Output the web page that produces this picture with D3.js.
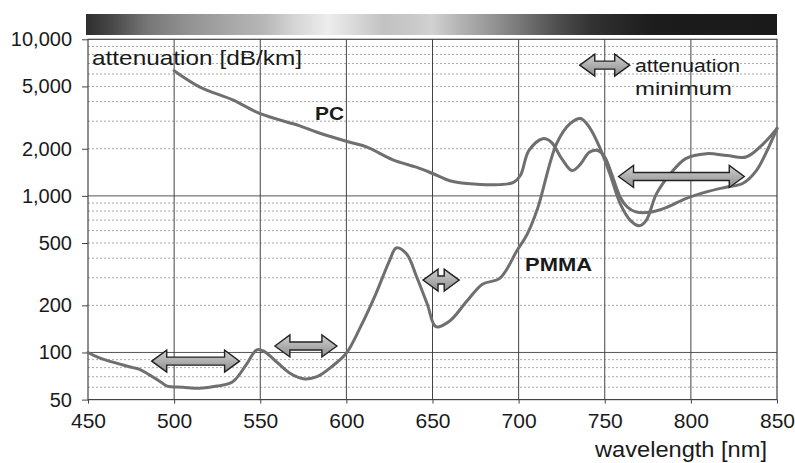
<!DOCTYPE html>
<html>
<head>
<meta charset="utf-8">
<script src="https://cdn.jsdelivr.net/npm/d3@7"></script>
<style>
  html, body { margin: 0; padding: 0; background: #ffffff; }
  svg { display: block; font-family: "Liberation Sans", Arial, Helvetica, sans-serif; }
</style>
</head>
<body>
<svg id="chart" width="795" height="463"></svg>
<script>
// ---------- data ----------
const xTicks = [450, 500, 550, 600, 650, 700, 750, 800, 850];
const yTicks = [50, 100, 200, 500, 1000, 2000, 5000, 10000];
const yMajorGrid = [100, 1000];
const yMinorGrid = [60, 70, 80, 90, 200, 300, 400, 500, 600, 700, 800, 900,
                    2000, 3000, 4000, 5000, 6000, 7000, 8000, 9000];

const pcWavelength = [500, 515, 534, 550, 573, 583, 602, 612, 627, 641, 650, 660, 670, 689,
  697, 701, 706, 714, 719, 725, 731, 736, 741, 746, 750, 754, 759, 763, 768, 776, 786,
  797, 809, 821, 830, 838, 850];
const pcAttenuation = [6300, 4950, 4100, 3350, 2800, 2550, 2200, 2050, 1700, 1520, 1390, 1250, 1200, 1180,
  1220, 1350, 1950, 2320, 2200, 1730, 1450, 1600, 1900, 1950, 1770, 1380, 980, 850, 790, 785, 845,
  960, 1060, 1140, 1200, 1450, 2700];

const pmmaWavelength = [450, 457, 476, 480, 492, 496, 505, 515, 525, 534, 542, 548, 552, 560, 567,
  575, 583, 592, 600, 608, 617, 625, 629, 635, 641, 647, 652, 660, 670, 679, 689, 699, 705, 711,
  722, 730, 736, 741, 747, 753, 759, 765, 770, 774, 780, 788, 797, 809, 821, 832, 842, 850];
const pmmaAttenuation = [100, 92, 80, 78, 65, 61, 60, 59, 61, 65, 84, 104, 102, 86, 74,
  68, 70, 82, 99, 144, 235, 385, 465, 425, 300, 203, 146, 159, 213, 273, 297, 446, 570, 830,
  2150, 2900, 3120, 2750, 2050, 1380, 890, 695, 645, 695, 1030, 1380, 1730, 1860, 1810, 1770, 2150, 2700];

// double arrows: wavelength range and level
const arrowFrom  = [487, 558.5, 644.5, 758, 735.5];
const arrowTo    = [538, 594.5, 665.5, 831, 764.5];
const arrowLevel = [88, 110, 290, 1330, 6840];

// ---------- drawing ----------
const svg = d3.select("#chart");
const x = d3.scaleLinear().domain([450, 850]).range([88, 777]);
const y = d3.scaleLog().domain([50, 10000]).range([399.6, 39.3]);

const defs = svg.append("defs");
// spectrum bar (grayscale)
const sg = defs.append("linearGradient").attr("id", "spec").attr("x1", "0").attr("x2", "1");
[[0, "#2e2e2e"], [0.04, "#4a4a4a"], [0.09, "#777"], [0.15, "#939393"], [0.2, "#a4a4a4"],
 [0.26, "#b8b8b8"], [0.3, "#d4d4d4"], [0.35, "#ededed"], [0.39, "#d8d8d8"], [0.43, "#c2c2c2"],
 [0.47, "#c8c8c8"], [0.5, "#d2d2d2"], [0.54, "#b4b4b4"], [0.58, "#9a9a9a"], [0.63, "#767676"],
 [0.68, "#505050"], [0.73, "#333"], [0.79, "#232323"], [0.82, "#1c1c1c"], [1, "#1a1a1a"]]
  .forEach(s => sg.append("stop").attr("offset", s[0]).attr("stop-color", s[1]));
const ag = defs.append("linearGradient").attr("id", "arrowFill")
  .attr("x1", "0").attr("x2", "0").attr("y1", "0").attr("y2", "1");
ag.append("stop").attr("offset", 0).attr("stop-color", "#d0d0d0");
ag.append("stop").attr("offset", 1).attr("stop-color", "#8e8e8e");

svg.append("rect").attr("x", 86).attr("y", 14).attr("width", 691).attr("height", 21)
  .attr("fill", "url(#spec)");

// minor grid
svg.append("g").selectAll("line").data(yMinorGrid).join("line")
  .attr("x1", 88).attr("x2", 777).attr("y1", d => y(d)).attr("y2", d => y(d))
  .attr("stroke", "#a8a8a8").attr("stroke-width", 1).attr("stroke-dasharray", "2,2");
// major grid
svg.append("g").selectAll("line").data(yMajorGrid).join("line")
  .attr("x1", 88).attr("x2", 777).attr("y1", d => y(d)).attr("y2", d => y(d))
  .attr("stroke", "#555").attr("stroke-width", 1);
svg.append("g").selectAll("line").data(xTicks.slice(1, -1)).join("line")
  .attr("x1", d => x(d)).attr("x2", d => x(d)).attr("y1", y(10000)).attr("y2", y(50))
  .attr("stroke", "#444").attr("stroke-width", 1);
// frame
svg.append("rect").attr("x", 88).attr("y", y(10000)).attr("width", 777 - 88)
  .attr("height", y(50) - y(10000)).attr("fill", "none").attr("stroke", "#444").attr("stroke-width", 1.2);

// axes
const yAxis = svg.append("g").attr("transform", "translate(88,0)")
  .call(d3.axisLeft(y).tickValues(yTicks).tickFormat(d3.format(",")).tickSize(6).tickPadding(10));
const xAxis = svg.append("g").attr("transform", `translate(0,${y(50)})`)
  .call(d3.axisBottom(x).tickValues(xTicks).tickFormat(d3.format("d")).tickSize(4).tickPadding(9));
[yAxis, xAxis].forEach(g => {
  g.select(".domain").remove();
  g.selectAll(".tick line").attr("stroke", "#444");
  g.selectAll("text").attr("fill", "#1a1a1a").style("font-size", "20px");
});
xAxis.selectAll("text").style("font-size", "21px");

// curves
const line = d3.line().x(d => x(d[0])).y(d => y(d[1])).curve(d3.curveCatmullRom.alpha(0.5));
const pc = pcWavelength.map((w, i) => [w, pcAttenuation[i]]);
const pmma = pmmaWavelength.map((w, i) => [w, pmmaAttenuation[i]]);
[pc, pmma].forEach(s => svg.append("path").datum(s).attr("d", line)
  .attr("fill", "none").attr("stroke", "#6f6f6f").attr("stroke-width", 3)
  .attr("stroke-linejoin", "round").attr("stroke-linecap", "round"));

// arrows
const hl = 15, hh = 11, sh = 4;
svg.append("g").selectAll("path").data(arrowFrom.map((f, i) => [f, arrowTo[i], arrowLevel[i]])).join("path")
  .attr("d", d => {
    const x1 = x(d[0]), x2 = x(d[1]), yy = y(d[2]);
    return `M${x1},${yy}L${x1 + hl},${yy - hh}L${x1 + hl},${yy - sh}L${x2 - hl},${yy - sh}` +
      `L${x2 - hl},${yy - hh}L${x2},${yy}L${x2 - hl},${yy + hh}L${x2 - hl},${yy + sh}` +
      `L${x1 + hl},${yy + sh}L${x1 + hl},${yy + hh}Z`;
  })
  .attr("fill", "url(#arrowFill)").attr("stroke", "#222").attr("stroke-width", 1.4)
  .attr("stroke-linejoin", "miter");

// labels
const txt = (t, xx, yy, size, weight, len) => {
  const el = svg.append("text").attr("x", xx).attr("y", yy).text(t)
    .attr("fill", "#1a1a1a").style("font-size", size + "px").style("font-weight", weight);
  if (len) el.attr("textLength", len).attr("lengthAdjust", "spacingAndGlyphs");
  return el;
};
txt("attenuation [dB/km]", 92, 65, 21, "normal", 210);
txt("PC", 315, 120, 18, "bold", 29);
txt("PMMA", 525, 271, 18, "bold", 67);
txt("attenuation", 635, 72, 19, "normal", 105);
txt("minimum", 635, 95, 19, "normal", 97);
txt("wavelength [nm]", 595, 457, 22, "normal", 172);
</script>
</body>
</html>
